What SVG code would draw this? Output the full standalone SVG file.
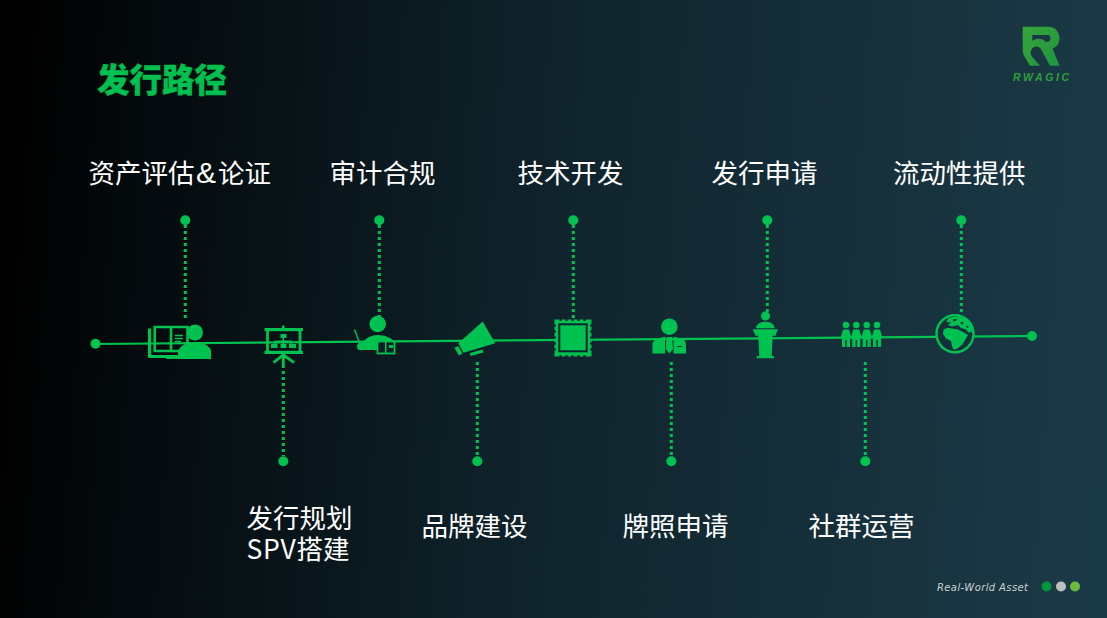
<svg xmlns="http://www.w3.org/2000/svg" width="1107" height="618" viewBox="0 0 1107 618">
<defs>
<linearGradient id="bg" gradientUnits="userSpaceOnUse" x1="0" y1="270" x2="1107" y2="350">
<stop offset="0" stop-color="#000000"/><stop offset="0.12" stop-color="#040a0d"/><stop offset="0.5" stop-color="#10242d"/><stop offset="1" stop-color="#1b3a47"/>
</linearGradient>
<linearGradient id="logo" x1="0" y1="0" x2="1" y2="1"><stop offset="0" stop-color="#38a63a"/><stop offset="1" stop-color="#1f9440"/></linearGradient>
</defs>
<style>
.g{fill:#00c250}
.o{fill:none;stroke:#00c250;stroke-width:2.600}
.s{fill:none;stroke:#00c250;stroke-width:2.800}
.dot{stroke:#00c250;stroke-width:3;stroke-dasharray:3 3;fill:none}
.l{font-family:"Noto Sans CJK SC","Liberation Sans",sans-serif;font-size:26.500px;fill:#ffffff}
</style>
<rect width="1107" height="618" fill="url(#bg)"/>
<text id="title" x="97" y="92" font-family="'Noto Sans CJK SC',sans-serif" font-weight="900" font-size="32.500" fill="#00c04f" stroke="#00c04f" stroke-width="0.300">发行路径</text>
<g id="logo-mark">
<path fill="url(#logo)" fill-rule="evenodd" d="M1022.700 26.700H1049C1055 26.700 1059.500 32 1059.500 38.500C1059.500 43 1057 47 1052.500 48.500L1059.500 65.700H1050L1041.500 50C1040 46.500 1036.500 45.500 1033.500 47.500C1030.500 49.500 1030 53 1031.500 56L1040 65.700H1030L1024.500 56.500C1023.300 54.500 1022.700 52.500 1022.700 50ZM1032.300 35V41C1036 38 1042 38 1046 42C1048.500 42 1050.500 41 1050.500 38C1050.500 36 1049.500 35 1048 35Z"/>
<text x="1013" y="80.500" textLength="56" lengthAdjust="spacing" font-family="'Liberation Sans',sans-serif" font-weight="700" font-style="italic" font-size="10.500" fill="#2f9f3a">RWAGIC</text>
</g>
<g id="connectors">
<path d="M95 344L1032 336" stroke="#00c250" stroke-width="2.200" fill="none"/>
<path class="dot" d="M185.300 225V320M379.300 225V316M573.300 225V319M767.300 225V312M961.300 225V315"/>
<path class="dot" d="M283.300 365V456M477.300 362V456M671.300 362V456M865.300 362V456"/>
<circle class="g" cx="95.500" cy="343.800" r="5"/><circle class="g" cx="1032" cy="336" r="5"/>
</g>
<g id="n1"><circle class="g" cx="185.300" cy="220.300" r="5"/><text class="l" y="183"><tspan x="88.500">资产评估</tspan><tspan x="196" font-size="30" font-family="'Liberation Sans',sans-serif">&amp;</tspan><tspan x="218">论证</tspan></text>
<path class="o" d="M154.700 327H187.500V351H154.700ZM171 327V350"/><path class="s" style="stroke-width:3.200" d="M149.600 328.500V356.500H188"/><path class="o" style="stroke-width:1.600" d="M175 335.500H183M175 338.500H183M175 341.500H181"/><rect class="g" x="166" y="355" width="12" height="4" rx="1"/>
<circle class="g" cx="195" cy="332.500" r="8"/><path class="g" d="M178 359V351C181 345 187 342 195 342C203 342 208 345 211 350V359Z"/></g>
<g id="n2"><circle class="g" cx="283.300" cy="461.300" r="5"/><text class="l"><tspan x="246.500" y="528">发行规划</tspan><tspan x="246.500" y="559" letter-spacing="0.700">SPV</tspan><tspan>搭建</tspan></text>
<rect class="g" x="264.500" y="328" width="38.500" height="3.200"/><rect class="g" x="264.500" y="350.800" width="38.500" height="3.200"/><rect class="g" x="282" y="325.500" width="2.500" height="3"/><path class="s" d="M267.500 330V352M300 330V352"/>
<path class="g" d="M280.500 334H286.500V338H284V340.500H292V344H296V348H289V344H290.500V342H284V344H286.500V348H280.500V344H282.500V342H276V344H277.500V348H271V344H274.500V340.500H282.500V338H280.500Z"/>
<path class="s" d="M283.300 353V365M283 355L273.500 362.700M283.500 355L294 362.700"/></g>
<g id="n3"><circle class="g" cx="379.300" cy="220.300" r="5"/><text class="l" x="329.500" y="183">审计合规</text>
<circle class="g" cx="377.700" cy="324" r="8.300"/><path class="g" d="M360 350C362 340 369 335 378 335C385 335 391 338 394 341H377V350Z"/>
<path d="M354.500 329.500L360 344" stroke="#00c250" stroke-width="1.500" fill="none"/><circle class="g" cx="360.700" cy="346.500" r="3.700"/>
<rect x="377.500" y="341.500" width="17" height="12" fill="#0c1f27" stroke="#00c250" stroke-width="1.800"/><path class="g" d="M385 342H386.500V353H385ZM389 345H393V348H389Z"/></g>
<g id="n4"><circle class="g" cx="477.300" cy="461.300" r="5"/><text class="l" x="421.500" y="536">品牌建设</text>
<path class="g" d="M482.700 321.500L495.300 343.300L463.500 352.800L458.300 343.300Z"/><path class="g" d="M454.500 348L458 346L462.500 353.500L459 355.500ZM470 353L482.500 349.500L483.500 352.500L472.500 355.500L470 355.500Z"/></g>
<g id="n5"><circle class="g" cx="573.300" cy="220.300" r="5"/><text class="l" x="517.500" y="183">技术开发</text>
<rect class="g" x="554.500" y="319.500" width="37" height="37"/>
<path d="M554.500 324.500v2M554.500 330.500v2M554.500 336.500v2M554.500 342.500v2M554.500 348.500v2M591.500 324.500v2M591.500 330.500v2M591.500 336.500v2M591.500 342.500v2M591.500 348.500v2M559.500 319.500h2M565.500 319.500h2M571.500 319.500h2M577.500 319.500h2M583.500 319.500h2M559.500 356.500h2M565.500 356.500h2M571.500 356.500h2M577.500 356.500h2M583.500 356.500h2" stroke="#0f232c" stroke-width="3" fill="none"/>
<rect x="559.300" y="324.300" width="27.400" height="27" fill="none" stroke="#0f232c" stroke-width="2"/></g>
<g id="n6"><circle class="g" cx="671.300" cy="461.300" r="5"/><text class="l" x="622.500" y="536">牌照申请</text>
<circle class="g" cx="669.300" cy="326.700" r="8.300"/><path class="g" d="M652.500 353.500V345C652.500 341 655 339.500 658 338.500L665 336.500V353.500ZM673.500 336.500L681 338.500C684 339.500 686 341 686 345V353.500H673.500Z"/><path class="g" d="M666.700 337H672L672.300 340L673 349L669.300 353.500L665.700 349L666.300 340Z"/><rect x="677" y="346" width="5" height="1" fill="#123038"/></g>
<g id="n7"><circle class="g" cx="767.300" cy="220.300" r="5"/><text class="l" x="711.500" y="183">发行申请</text>
<circle class="g" cx="765.500" cy="316" r="4.500"/><path class="g" d="M756 328.300C756 324.500 760 321.700 765.500 321.700C771 321.700 774.700 324.500 774.700 328.300ZM752.700 329.300H778L775.500 335.700H755.500ZM758.300 335.700H772.700L771.700 356H759.300ZM756.700 356H774V358.300H756.700Z"/></g>
<g id="n8"><circle class="g" cx="865.300" cy="461.300" r="5"/><text class="l" x="808.500" y="536">社群运营</text>
<g id="people"><circle class="g" cx="846" cy="325" r="3.300"/><circle class="g" cx="856.300" cy="325" r="3.300"/><circle class="g" cx="866.700" cy="325" r="3.300"/><circle class="g" cx="877" cy="325" r="3.300"/>
<path class="g" d="M840.500 338L843 329.500H849L851.500 338L850 338.500V347H846.700V340H845.300V347H842V338.500ZM850.800 338L853.300 329.500H859.300L861.800 338L860.300 338.500V347H857V340H855.600V347H852.300V338.500ZM861.200 338L863.700 329.500H869.700L872.200 338L870.700 338.500V347H867.400V340H866V347H862.700V338.500ZM871.500 338L874 329.500H880L882.500 338L881 338.500V347H877.700V340H876.300V347H873V338.500Z"/></g></g>
<g id="n9"><circle class="g" cx="961.300" cy="220.300" r="5"/><text class="l" x="893" y="183">流动性提供</text>
<circle cx="955" cy="333.700" r="18.500" fill="#15303b" stroke="#00c250" stroke-width="2.400"/>
<path class="g" d="M943.500 330C945 327.500 950 327.500 952 328.500L958 329.500L962 331.500L968 335L965 340L962 345L958 348C955 350.500 953 350 952 346L951 341L946 338.500L943 334ZM948 318.500C954 315.500 963 316 969 322C972 325 973 329 973.500 333L970.500 331.500L969 333L966 329.500L961 328L958 325L952 326.500L948 325L951.500 322.500L946.500 322Z"/>
<path d="M953 319.500L957 318.500L956 321L953 321.500ZM960 322L964 322.500L962 325ZM966 325L969 327L967 328Z" fill="#15303b"/></g>
<g id="footer">
<text x="937" y="591" textLength="91" font-family="'DejaVu Sans',sans-serif" font-style="italic" font-size="10" fill="#c9d2d2">Real-World Asset</text>
<circle cx="1046.500" cy="586.500" r="5" fill="#00963c"/><circle cx="1061" cy="586.500" r="5" fill="#bfbfbf"/><circle cx="1075" cy="586.500" r="5" fill="#6cbb3c"/>
</g>
</svg>
